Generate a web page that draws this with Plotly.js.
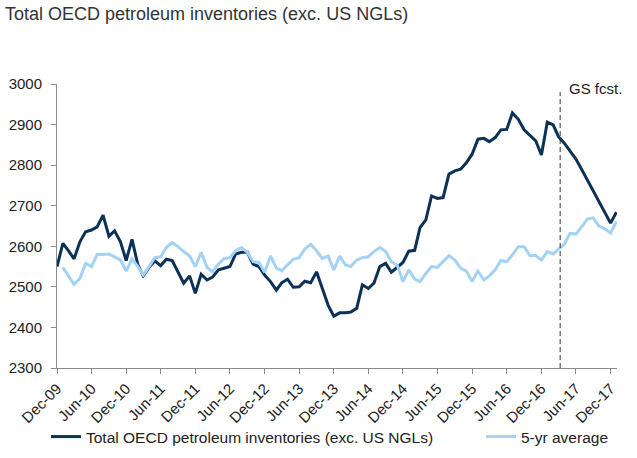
<!DOCTYPE html>
<html>
<head>
<meta charset="utf-8">
<script src="https://cdn.plot.ly/plotly-3.0.1.min.js"></script>
<style>html,body{margin:0;padding:0;background:#fff;}#chart{width:637px;height:458px;}</style>
</head>
<body>
<div id="chart"></div>
<script>
// Monthly data, Dec-09 .. Jan-18
var startYear = 2009, startMonth = 12;
var inventories = [
  2550, 2607, 2588, 2569, 2611, 2636, 2640, 2648, 2677, 2625, 2638, 2611,
  2565, 2617, 2554, 2527, 2548, 2564, 2552, 2568, 2565, 2537, 2509, 2527,
  2484, 2531, 2517, 2524, 2542, 2546, 2550, 2581, 2585, 2585, 2556, 2550,
  2529, 2513, 2492, 2510, 2519, 2499, 2500, 2514, 2510, 2537, 2496, 2455,
  2428, 2436, 2436, 2438, 2447, 2505, 2496, 2509, 2550, 2558, 2536, 2548,
  2560, 2588, 2590, 2646, 2665, 2724, 2718, 2720, 2778, 2786, 2790, 2806,
  2827, 2864, 2866, 2858, 2868, 2887, 2888, 2929, 2913, 2887, 2874, 2860,
  2825, 2906, 2899, 2870, 2854, 2836, 2815, 2790, 2763, 2737, 2710, 2683,
  2657, 2684
];
// 5-yr average starts Jan-10
var fiveYrAvg = [
        2548, 2525, 2506, 2521, 2558, 2550, 2580, 2580, 2581, 2574, 2566,
  2539, 2569, 2550, 2529, 2550, 2572, 2574, 2597, 2609, 2599, 2587, 2576,
  2550, 2585, 2548, 2537, 2556, 2570, 2572, 2589, 2597, 2585, 2562, 2560,
  2536, 2576, 2546, 2540, 2554, 2568, 2572, 2593, 2605, 2589, 2570, 2576,
  2542, 2576, 2554, 2550, 2566, 2572, 2574, 2587, 2597, 2587, 2562, 2554,
  2513, 2542, 2519, 2513, 2533, 2550, 2548, 2562, 2577, 2566, 2546, 2539,
  2513, 2539, 2517, 2527, 2542, 2565, 2562, 2579, 2599, 2599, 2577, 2577,
  2566, 2587, 2581, 2593, 2605, 2632, 2630, 2648, 2667, 2670, 2650, 2643,
  2633, 2661
];
var tickVals = ['2009-12-01','2010-06-01','2010-12-01','2011-06-01','2011-12-01','2012-06-01',
  '2012-12-01','2013-06-01','2013-12-01','2014-06-01','2014-12-01','2015-06-01','2015-12-01',
  '2016-06-01','2016-12-01','2017-06-01','2017-12-01'];
var tickText = ['Dec-09','Jun-10','Dec-10','Jun-11','Dec-11','Jun-12','Dec-12','Jun-13','Dec-13',
  'Jun-14','Dec-14','Jun-15','Dec-15','Jun-16','Dec-16','Jun-17','Dec-17'];
var forecastStart = '2017-03-10';

function monthLabel(i) {
  var m = startMonth - 1 + i;
  var y = startYear + Math.floor(m / 12);
  var mm = (m % 12) + 1;
  return y + '-' + (mm < 10 ? '0' : '') + mm + '-01';
}
var xInv = inventories.map(function (_, i) { return monthLabel(i); });
var xAvg = fiveYrAvg.map(function (_, i) { return monthLabel(i + 1); });

var traces = [
  {x: xInv, y: inventories, type: 'scatter', mode: 'lines',
   name: 'Total OECD petroleum inventories (exc. US NGLs)',
   line: {color: '#0b3156', width: 3}, legend: 'legend'},
  {x: xAvg, y: fiveYrAvg, type: 'scatter', mode: 'lines', name: '5-yr average',
   line: {color: '#a3d2f3', width: 3}, legend: 'legend2'}
];
var tickFont = {family: 'Liberation Sans, Arial, sans-serif', size: 15, color: '#222'};
var legendY = (368 - 437) / 284;
var layout = {
  width: 637, height: 458,
  margin: {l: 57, r: 20, t: 84, b: 90, autoexpand: false},
  paper_bgcolor: '#fff', plot_bgcolor: '#fff',
  showlegend: true,
  title: {text: 'Total OECD petroleum inventories (exc. US NGLs)',
    font: {family: 'Liberation Sans, Arial, sans-serif', size: 18, color: '#333'},
    x: 5 / 637, xanchor: 'left', xref: 'container', y: 1 - 14 / 458, yanchor: 'middle', yref: 'container'},
  xaxis: {type: 'date', range: ['2009-12-01', '2018-01-04'], tickmode: 'array',
    tickvals: tickVals, ticktext: tickText, tickangle: -45, tickfont: tickFont,
    showgrid: false, zeroline: false, showline: true, linecolor: '#8c8c8c', linewidth: 1,
    ticks: 'outside', ticklen: 5, tickcolor: '#8c8c8c', automargin: false},
  yaxis: {range: [2300, 3000], dtick: 100, tick0: 2300, tickfont: tickFont,
    showgrid: false, zeroline: false, showline: true, linecolor: '#8c8c8c', linewidth: 1,
    ticks: 'outside', ticklen: 5, tickcolor: '#8c8c8c', ticklabelstandoff: 6, automargin: false},
  legend: {orientation: 'h', x: (46 - 57) / 560, xanchor: 'left', y: legendY, yanchor: 'middle',
    font: {family: 'Liberation Sans, Arial, sans-serif', size: 15.5, color: '#222'}, bgcolor: 'rgba(0,0,0,0)'},
  legend2: {orientation: 'h', x: (481 - 57) / 560, xanchor: 'left', y: legendY, yanchor: 'middle',
    font: {family: 'Liberation Sans, Arial, sans-serif', size: 15.5, color: '#222'}, bgcolor: 'rgba(0,0,0,0)'},
  shapes: [{type: 'line', xref: 'x', yref: 'y', x0: forecastStart, x1: forecastStart, y0: 2300, y1: 2980,
    line: {color: '#333', width: 1, dash: '5px,3px'}}],
  annotations: [{x: forecastStart, y: 2990, xref: 'x', yref: 'y', text: 'GS fcst.', showarrow: false,
    xanchor: 'left', yanchor: 'middle', xshift: 7,
    font: {family: 'Liberation Sans, Arial, sans-serif', size: 15, color: '#222'}}]
};
Plotly.newPlot('chart', traces, layout, {displayModeBar: false, staticPlot: true});
</script>
</body>
</html>
